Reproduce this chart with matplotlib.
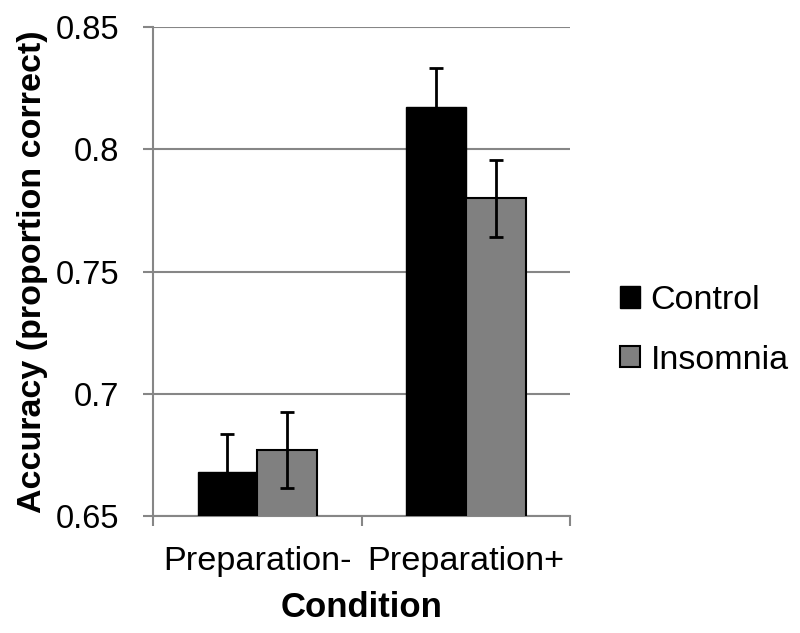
import numpy as np
import matplotlib.pyplot as plt
from matplotlib.ticker import FixedLocator

plt.rcParams['font.family'] = ['Liberation Sans', 'DejaVu Sans']

conditions = ["Preparation-", "Preparation+"]
groups = ["Control", "Insomnia"]
control_mean = [0.668, 0.8175]
control_err = [0.0155, 0.0157]
insomnia_mean = [0.677, 0.780]
insomnia_err = [0.0156, 0.0157]
yticks = [0.65, 0.7, 0.75, 0.8, 0.85]
ytick_labels = ["0.65", "0.7", "0.75", "0.8", "0.85"]

grey = "#868686"
fig = plt.figure(figsize=(8, 6.33), dpi=100)
ax = fig.add_axes([0.191, 0.185, 0.522, 0.772])

x = np.arange(len(conditions))
w = 0.285
err_kw = dict(ecolor="black", elinewidth=2, capsize=5, capthick=2)
ax.bar(x - w / 2, control_mean, w, yerr=control_err, color="black",
       edgecolor="black", linewidth=1, label=groups[0], error_kw=err_kw, zorder=3)
ax.bar(x + w / 2, insomnia_mean, w, yerr=insomnia_err, color="#808080",
       edgecolor="black", linewidth=1.5, label=groups[1], error_kw=err_kw, zorder=3)

ax.set_xlim(-0.5, len(conditions) - 0.5)
ax.set_ylim(0.65, 0.85)
ax.set_yticks(yticks)
ax.set_yticklabels(ytick_labels)
ax.yaxis.grid(True, color=grey, linewidth=1.5)
ax.set_axisbelow(True)

ax.set_xticks(x)
ax.set_xticklabels(conditions)
ax.xaxis.set_minor_locator(FixedLocator(np.arange(-0.5, len(conditions), 1.0)))
ax.tick_params(axis="x", which="major", length=0, pad=22, labelsize=24.7)
ax.tick_params(axis="x", which="minor", length=7, width=1.5, color=grey)
ax.tick_params(axis="y", length=7, width=1.5, color=grey, pad=17, labelsize=23.5)

for s in ["top", "right"]:
    ax.spines[s].set_visible(False)
for s in ["left", "bottom"]:
    ax.spines[s].set_color(grey)
    ax.spines[s].set_linewidth(1.5)

ax.set_ylabel("Accuracy (proportion correct)", fontsize=24.5, fontweight="bold", labelpad=6)
ax.set_xlabel("Condition", fontsize=25, fontweight="bold", labelpad=10)

ax.legend(loc="center left", bbox_to_anchor=(1.045, 0.38), frameon=False,
          fontsize=24.5, handlelength=0.6, handleheight=0.6, handletextpad=0.3,
          labelspacing=0.85)

plt.savefig("out.png", dpi=100)
